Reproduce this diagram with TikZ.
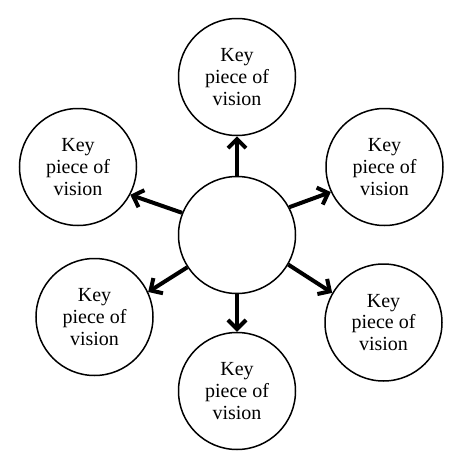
\documentclass[tikz,border=0pt]{standalone}
\usepackage{fontspec}
\setmainfont{Liberation Serif}
\usetikzlibrary{arrows.meta}
\begin{document}
\begin{tikzpicture}[x=1pt,y=-1pt,
  bubble/.style={circle,draw,line width=1.5pt,minimum size=117pt,inner sep=0pt,
    align=center,font=\fontsize{20}{21.7}\selectfont},
  link/.style={line width=4pt,-{Straight Barb[length=9pt,width=18pt]}}]
\useasboundingbox (0,0) rectangle (467,466);
\node[bubble] (c) at (237,235) {};
\node[bubble] (t) at (237,77) {Key\\piece of\\vision};
\node[bubble] (ul) at (78,167) {Key\\piece of\\vision};
\node[bubble] (ur) at (384.5,167) {Key\\piece of\\vision};
\node[bubble] (ll) at (94.5,317) {Key\\piece of\\vision};
\node[bubble] (lr) at (383.5,322.5) {Key\\piece of\\vision};
\node[bubble] (b) at (237,391) {Key\\piece of\\vision};
\draw[link] (c.90) -- (t.270);
\draw[link] (c.158) -- (ul.-28);
\draw[link] (c.28) -- (ur.205);
\draw[link] (c.213) -- (ll.25);
\draw[link] (c.330) -- (lr.150);
\draw[link] (c.270) -- (b.90);
\end{tikzpicture}
\end{document}
